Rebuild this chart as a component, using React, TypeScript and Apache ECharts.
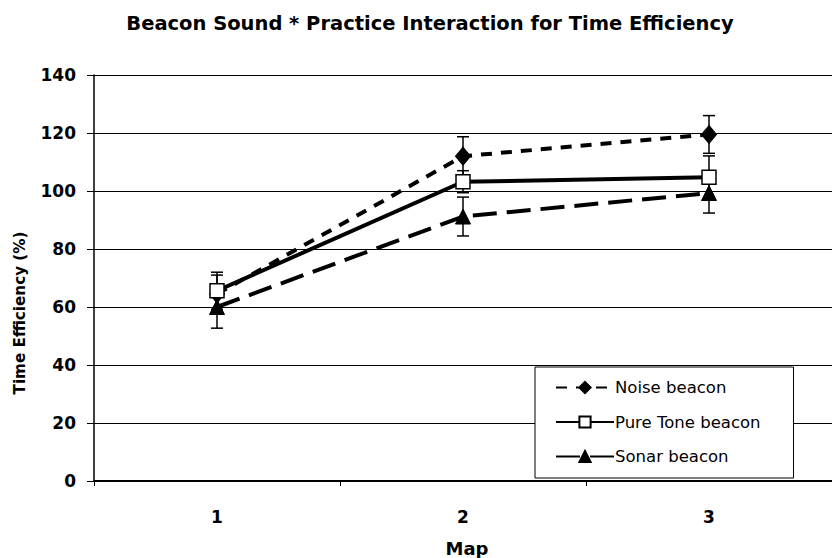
import React, { useEffect, useRef } from "react";
import * as echarts from "echarts";

const categories = ["1", "2", "3"];
const seriesNames = ["Noise beacon", "Pure Tone beacon", "Sonar beacon"];
const noise = [64.5, 112, 119.5];
const noiseErr = [6.5, 6.7, 6.5];
const pureTone = [65.6, 103.2, 104.7];
const pureToneErr = [6.4, 3.8, 7.4];
const sonar = [60, 91.2, 99.3];
const sonarErr = [7.3, 6.7, 6.9];
const yTicks = [0, 20, 40, 60, 80, 100, 120, 140];

const FONT = "DejaVu Sans";

function errorSeries(name: string, vals: number[], errs: number[]) {
  return {
    type: "custom",
    name: name + " err",
    silent: true,
    z: 3,
    data: vals.map((v, i) => [i, v, errs[i]]),
    renderItem: (params: any, api: any) => {
      const x = api.value(0);
      const v = api.value(1);
      const e = api.value(2);
      const top = api.coord([x, v + e]);
      const bot = api.coord([x, v - e]);
      const cw = 6;
      const style = { stroke: "#000", lineWidth: 1.5 };
      return {
        type: "group",
        children: [
          { type: "line", shape: { x1: top[0], y1: top[1], x2: bot[0], y2: bot[1] }, style },
          { type: "line", shape: { x1: top[0] - cw, y1: top[1], x2: top[0] + cw, y2: top[1] }, style },
          { type: "line", shape: { x1: bot[0] - cw, y1: bot[1], x2: bot[0] + cw, y2: bot[1] }, style },
        ],
      };
    },
  };
}

export default function App() {
  const ref = useRef<HTMLDivElement>(null);
  useEffect(() => {
    if (!ref.current) return;
    const chart = echarts.init(ref.current, null, { renderer: "svg" });
    chart.setOption({
      animation: false,
      backgroundColor: "#fff",
      title: {
        text: "Beacon Sound * Practice Interaction for Time Efficiency",
        left: 425,
        top: 8,
        textAlign: "center",
        textStyle: { fontFamily: FONT, fontWeight: "bold", fontSize: 19.5, color: "#000" },
      },
      grid: { left: 94, top: 75, width: 745, height: 406, containLabel: false },
      legend: {
        orient: "vertical",
        left: 535,
        top: 367,
        data: seriesNames,
        itemWidth: 58,
        itemHeight: 14,
        itemGap: 17.5,
        padding: [12, 33, 13, 20],
        borderColor: "#000",
        borderWidth: 1,
        backgroundColor: "#fff",
        textStyle: { fontFamily: FONT, fontSize: 16.5, color: "#000", padding: [0, 0, 0, -4] },
      },
      xAxis: {
        type: "category",
        data: categories,
        axisLine: { lineStyle: { color: "#000", width: 2 } },
        axisTick: { show: true, length: 5, lineStyle: { color: "#000" } },
        axisLabel: { fontFamily: FONT, fontWeight: "bold", fontSize: 17, color: "#000", margin: 27 },
        splitLine: { show: false },
      },
      yAxis: {
        type: "value",
        min: 0,
        max: 140,
        interval: 20,
        axisLine: { show: true, lineStyle: { color: "#000", width: 1.5 } },
        axisTick: { show: true, length: 7, lineStyle: { color: "#000" } },
        axisLabel: {
          fontFamily: FONT,
          fontWeight: "bold",
          fontSize: 17,
          color: "#000",
          margin: 18,
          formatter: (v: number) => (yTicks.includes(v) ? String(v) : ""),
        },
        splitLine: { show: true, lineStyle: { color: "#000", width: 1 } },
      },
      graphic: [
        {
          type: "text",
          x: 20,
          y: 313,
          rotation: Math.PI / 2,
          style: {
            text: "Time Efficiency (%)",
            fontFamily: FONT,
            fontWeight: "bold",
            fontSize: 15.2,
            fill: "#000",
            align: "center",
            verticalAlign: "middle",
          },
        },
        {
          type: "text",
          x: 467,
          y: 548,
          style: {
            text: "Map",
            fontFamily: FONT,
            fontWeight: "bold",
            fontSize: 18,
            fill: "#000",
            align: "center",
            verticalAlign: "middle",
          },
        },
      ],
      series: [
        errorSeries(seriesNames[0], noise, noiseErr),
        errorSeries(seriesNames[1], pureTone, pureToneErr),
        errorSeries(seriesNames[2], sonar, sonarErr),
        {
          type: "line",
          name: seriesNames[0],
          data: noise,
          z: 4,
          symbol: "diamond",
          symbolSize: [15, 18],
          lineStyle: { color: "#000", width: 4, type: [11, 9] },
          itemStyle: { color: "#000", borderColor: "#000", borderWidth: 1 },
        },
        {
          type: "line",
          name: seriesNames[1],
          data: pureTone,
          z: 5,
          symbol: "rect",
          symbolSize: 14,
          lineStyle: { color: "#000", width: 4, type: "solid" },
          itemStyle: { color: "#fff", borderColor: "#000", borderWidth: 1.5 },
        },
        {
          type: "line",
          name: seriesNames[2],
          data: sonar,
          z: 6,
          symbol: "triangle",
          symbolSize: [15, 15],
          lineStyle: { color: "#000", width: 4, type: [24, 10] },
          itemStyle: { color: "#000", borderColor: "#000", borderWidth: 1 },
        },
      ],
    });
    return () => chart.dispose();
  }, []);
  return (
    <div
      ref={ref}
      style={{ position: "fixed", left: 0, top: 0, width: 832, height: 558 }}
    />
  );
}
